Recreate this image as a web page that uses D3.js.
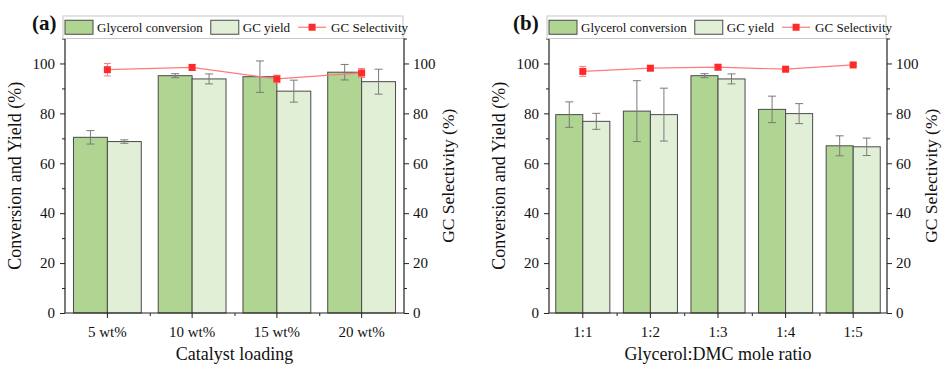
<!DOCTYPE html>
<html>
<head>
<meta charset="utf-8">
<script src="https://cdn.jsdelivr.net/npm/d3@7"></script>
<style>
  html, body { margin: 0; padding: 0; background: #fff; }
  svg { display: block; font-family: "Liberation Serif", "Times New Roman", serif; }
</style>
</head>
<body>
<svg id="chart" width="942" height="367"></svg>
<script>
// panel (a): catalyst loading
const loadingCats = ['5 wt%', '10 wt%', '15 wt%', '20 wt%'];
const loadingConv = [70.4, 95.1, 94.7, 96.5];
const loadingConvErr = [2.7, 0.8, 6.3, 3.1];
const loadingYield = [68.7, 93.8, 88.9, 92.7];
const loadingYieldErr = [0.7, 2.0, 4.4, 5.0];
const loadingSel = [97.5, 98.4, 93.8, 96.2];
const loadingSelErr = [2.5, 1.2, 1.5, 1.8];

// panel (b): glycerol:DMC mole ratio
const ratioCats = ['1:1', '1:2', '1:3', '1:4', '1:5'];
const ratioConv = [79.5, 80.9, 95.1, 81.6, 67.0];
const ratioConvErr = [5.1, 12.2, 0.8, 5.3, 4.0];
const ratioYield = [76.8, 79.5, 93.8, 79.9, 66.6];
const ratioYieldErr = [3.2, 10.6, 2.0, 4.0, 3.5];
const ratioSel = [96.8, 98.1, 98.5, 97.7, 99.4];
const ratioSelErr = [2.0, 1.0, 1.0, 1.0, 0.5];

const yTicks = [0, 20, 40, 60, 80, 100];
const yMinorTicks = [10, 30, 50, 70, 90, 110];
const seriesNames = ['Glycerol conversion', 'GC yield', 'GC Selectivity'];

const convColor = '#b0d491';
const yieldColor = '#e1efd6';
const selColor = '#ff2b2b';
const selLine = '#ff7a7a';

const svg = d3.select('#chart');

function drawPanel(cfg) {
  const { left, right, top, bottom } = cfg;
  const g = svg.append('g');

  const x = d3.scaleBand().domain(cfg.cats).range([left, right]).padding(0);
  const bw = x.bandwidth();
  const inner = d3.scaleBand().domain(['conv', 'yield']).range([bw * 0.1, bw * 0.9]).padding(0);
  const y = d3.scaleLinear().domain([0, 110]).range([bottom, top]);

  const rows = cfg.cats.map((c, i) => ({
    cat: c,
    conv: cfg.conv[i], convErr: cfg.convErr[i],
    yield: cfg.yield[i], yieldErr: cfg.yieldErr[i],
    sel: cfg.sel[i], selErr: cfg.selErr[i]
  }));

  // bars
  [['conv', convColor], ['yield', yieldColor]].forEach(([key, fill]) => {
    g.selectAll('.bar-' + key)
      .data(rows)
      .enter()
      .append('rect')
      .attr('class', 'bar-' + key)
      .attr('x', d => x(d.cat) + inner(key))
      .attr('y', d => y(d[key]))
      .attr('width', inner.bandwidth())
      .attr('height', d => y(0) - y(d[key]))
      .attr('fill', fill)
      .attr('stroke', '#4a4a4a')
      .attr('stroke-width', 1);
  });

  // bar error bars
  ['conv', 'yield'].forEach(key => {
    const cx = d => x(d.cat) + inner(key) + inner.bandwidth() / 2;
    const eg = g.selectAll('.err-' + key).data(rows).enter().append('g')
      .attr('stroke', '#7a7a7a').attr('stroke-width', 1);
    eg.append('line')
      .attr('x1', cx).attr('x2', cx)
      .attr('y1', d => y(d[key] + d[key + 'Err']))
      .attr('y2', d => y(d[key] - d[key + 'Err']));
    [1, -1].forEach(s => {
      eg.append('line')
        .attr('x1', d => cx(d) - 4).attr('x2', d => cx(d) + 4)
        .attr('y1', d => y(d[key] + s * d[key + 'Err']))
        .attr('y2', d => y(d[key] + s * d[key + 'Err']));
    });
  });

  // selectivity line + markers (right axis, same 0-110 scale)
  const sx = d => x(d.cat) + bw / 2;
  g.append('path')
    .datum(rows)
    .attr('fill', 'none')
    .attr('stroke', selLine)
    .attr('stroke-width', 1.2)
    .attr('d', d3.line().x(sx).y(d => y(d.sel)));

  const se = g.selectAll('.sel-err').data(rows).enter().append('g')
    .attr('stroke', selLine).attr('stroke-width', 1);
  se.append('line')
    .attr('x1', sx).attr('x2', sx)
    .attr('y1', d => y(d.sel + d.selErr)).attr('y2', d => y(d.sel - d.selErr));
  [1, -1].forEach(s => {
    se.append('line')
      .attr('x1', d => sx(d) - 3.5).attr('x2', d => sx(d) + 3.5)
      .attr('y1', d => y(d.sel + s * d.selErr)).attr('y2', d => y(d.sel + s * d.selErr));
  });

  g.selectAll('.sel-pt').data(rows).enter().append('rect')
    .attr('x', d => sx(d) - 3.5)
    .attr('y', d => y(d.sel) - 3.5)
    .attr('width', 7).attr('height', 7)
    .attr('fill', selColor);

  // axes
  const tickFont = g => g.selectAll('text').attr('font-size', 15).attr('fill', '#111')
    .attr('font-family', '"Liberation Serif", "Times New Roman", serif');
  const axisStyle = g => {
    g.select('.domain').remove();
    g.selectAll('line').attr('stroke', '#222');
    tickFont(g);
  };

  g.append('g').attr('transform', `translate(${left},0)`)
    .call(d3.axisLeft(y).tickValues(yTicks).tickSize(5).tickPadding(5).tickFormat(d3.format('d')))
    .call(axisStyle);
  g.append('g').attr('transform', `translate(${left},0)`)
    .call(d3.axisLeft(y).tickValues(yMinorTicks).tickSize(3).tickFormat(''))
    .call(axisStyle);

  g.append('g').attr('transform', `translate(${right},0)`)
    .call(d3.axisRight(y).tickValues(yTicks).tickSize(5).tickPadding(4).tickFormat(d3.format('d')))
    .call(axisStyle);
  g.append('g').attr('transform', `translate(${right},0)`)
    .call(d3.axisRight(y).tickValues(yMinorTicks).tickSize(3).tickFormat(''))
    .call(axisStyle);

  g.append('g').attr('transform', `translate(0,${bottom})`)
    .call(d3.axisBottom(x).tickSize(5).tickPadding(8))
    .call(axisStyle);
  const bounds = cfg.cats.slice(1).map(c => x(c));
  g.append('g').attr('transform', `translate(0,${bottom})`)
    .call(d3.axisBottom(d3.scaleIdentity()).tickValues(bounds).tickSize(3).tickFormat(''))
    .call(axisStyle);

  // frame
  g.append('path')
    .attr('fill', 'none')
    .attr('stroke', '#222')
    .attr('stroke-width', 1.2)
    .attr('d', `M${left},${top}V${bottom}H${right}V${top}`);
  g.append('line')
    .attr('x1', left).attr('x2', right).attr('y1', top).attr('y2', top)
    .attr('stroke', '#555').attr('stroke-width', 1);

  // axis titles
  g.append('text')
    .attr('transform', `translate(${left - 50},${(top + bottom) / 2}) rotate(-90)`)
    .attr('text-anchor', 'middle').attr('dominant-baseline', 'central')
    .attr('font-size', 18).attr('fill', '#111')
    .text('Conversion and Yield (%)');
  g.append('text')
    .attr('transform', `translate(${right + 44},${(top + bottom) / 2}) rotate(-90)`)
    .attr('text-anchor', 'middle').attr('dominant-baseline', 'central')
    .attr('font-size', 17.5).attr('fill', '#111')
    .text('GC Selectivity (%)');
  g.append('text')
    .attr('x', (left + right) / 2).attr('y', 360)
    .attr('text-anchor', 'middle')
    .attr('font-size', 18).attr('fill', '#111')
    .text(cfg.xTitle);

  // panel label
  g.append('text')
    .attr('x', cfg.labelX).attr('y', 30)
    .attr('font-size', 21).attr('font-weight', 'bold').attr('fill', '#111')
    .text(cfg.label);

  // legend
  const lg = g.append('g');
  const boxL = left - 2, boxR = right - 1, boxT = 16, boxB = top;
  lg.append('rect')
    .attr('x', boxL).attr('y', boxT).attr('width', boxR - boxL).attr('height', boxB - boxT)
    .attr('fill', '#fff').attr('stroke', '#c8c8c8').attr('stroke-width', 1);
  const ly = (boxT + boxB) / 2;
  let cx = boxL + 2;
  [[convColor, seriesNames[0]], [yieldColor, seriesNames[1]]].forEach(([fill, name]) => {
    lg.append('rect')
      .attr('x', cx).attr('y', ly - 7).attr('width', 28).attr('height', 14)
      .attr('fill', fill).attr('stroke', '#4a4a4a');
    const t = lg.append('text')
      .attr('x', cx + 32).attr('y', ly).attr('dominant-baseline', 'central')
      .attr('font-size', 13).attr('fill', '#111').text(name);
    cx += 32 + t.node().getComputedTextLength() + 8;
  });
  lg.append('line')
    .attr('x1', cx).attr('x2', cx + 28).attr('y1', ly).attr('y2', ly)
    .attr('stroke', selLine).attr('stroke-width', 1.2);
  lg.append('rect')
    .attr('x', cx + 14 - 3.5).attr('y', ly - 3.5).attr('width', 7).attr('height', 7)
    .attr('fill', selColor);
  lg.append('text')
    .attr('x', cx + 33).attr('y', ly).attr('dominant-baseline', 'central')
    .attr('font-size', 13).attr('fill', '#111').text(seriesNames[2]);
}

drawPanel({
  cats: loadingCats, conv: loadingConv, convErr: loadingConvErr,
  yield: loadingYield, yieldErr: loadingYieldErr,
  sel: loadingSel, selErr: loadingSelErr,
  left: 65, right: 404, top: 38.5, bottom: 313,
  xTitle: 'Catalyst loading', label: '(a)', labelX: 32
});

drawPanel({
  cats: ratioCats, conv: ratioConv, convErr: ratioConvErr,
  yield: ratioYield, yieldErr: ratioYieldErr,
  sel: ratioSel, selErr: ratioSelErr,
  left: 549, right: 887, top: 38.5, bottom: 313,
  xTitle: 'Glycerol:DMC mole ratio', label: '(b)', labelX: 513
});
</script>
</body>
</html>
